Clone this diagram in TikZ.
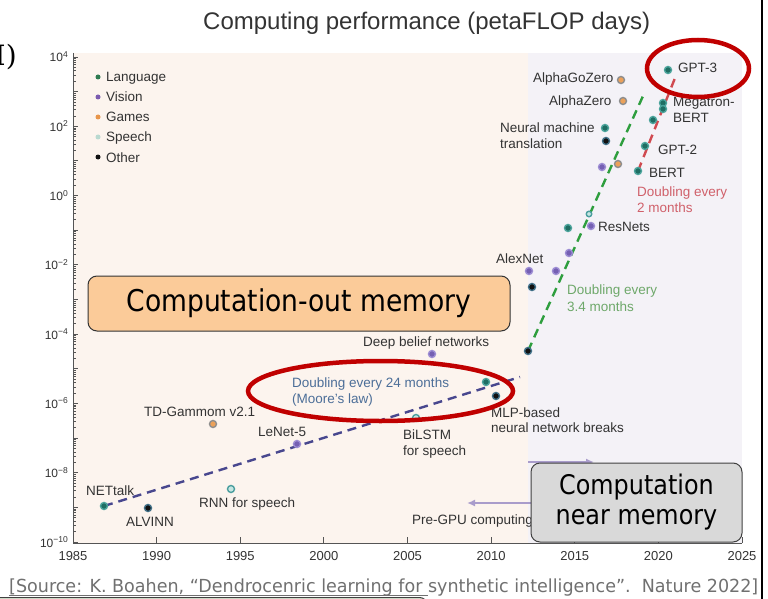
\documentclass[tikz,border=0pt]{standalone}
\usepackage{fontspec}
\setmainfont{Liberation Sans}
\newfontfamily\slidefont[FakeStretch=0.885]{DejaVu Sans}
\newfontfamily\slideserif{DejaVu Serif}
\usetikzlibrary{shapes.geometric,arrows.meta}
\pgfdeclarelayer{bg}
\pgfdeclarelayer{trend}
\pgfsetlayers{bg,trend,main}

\definecolor{peach}{HTML}{FCF4EE}
\definecolor{lavend}{HTML}{F4F2F7}
\definecolor{langc}{HTML}{1F6E63}
\definecolor{langr}{HTML}{4AA39B}
\definecolor{visc}{HTML}{7560B3}
\definecolor{visr}{HTML}{9C8CD3}
\definecolor{gamec}{HTML}{EBA15A}
\definecolor{gamer}{HTML}{8E8E8E}
\definecolor{spc}{HTML}{C6E6E2}
\definecolor{spr}{HTML}{4A9E9E}
\definecolor{othc}{HTML}{111111}
\definecolor{othr}{HTML}{3E6E86}
\definecolor{labgray}{HTML}{333333}
\definecolor{axisgray}{HTML}{555555}
\definecolor{moorec}{HTML}{48478E}
\definecolor{mooretxt}{HTML}{4C6E98}
\definecolor{greenc}{HTML}{2E9E3E}
\definecolor{greentxt}{HTML}{6EA86A}
\definecolor{redc}{HTML}{D04A50}
\definecolor{redtxt}{HTML}{D0606A}
\definecolor{ringred}{HTML}{C00000}
\definecolor{arrowc}{HTML}{A99CCB}
\definecolor{orangebox}{HTML}{FBCB99}
\definecolor{graybox}{HTML}{D9D9D9}
\definecolor{srcgray}{HTML}{707070}
\definecolor{notegreen}{HTML}{E2EFDA}
\definecolor{legl}{HTML}{2E7A50}
\definecolor{legv}{HTML}{7B5BB0}
\definecolor{legg}{HTML}{E8954A}
\definecolor{legs}{HTML}{B9D9D0}

\begin{document}
\begin{tikzpicture}[x=1pt,y=-1pt,
  dot/.style n args={2}{circle, inner sep=0pt, minimum size=7pt, fill=#1, draw=#2, line width=1.4pt},
  lang/.style={dot={langc}{langr}},
  vis/.style={dot={visc}{visr}},
  game/.style={dot={gamec}{gamer}},
  speech/.style={dot={spc}{spr}},
  other/.style={dot={othc}{othr}},
  lab/.style={font=\fontsize{13.5}{15}\selectfont, text=labgray, inner sep=0pt, anchor=base west},
  legdot/.style={circle, inner sep=0pt, minimum size=5pt, fill=#1},
  axis/.style={draw=axisgray, line width=0.9pt},
  ticklab/.style={font=\fontsize{13}{14}\selectfont, text=labgray, inner sep=0pt},
  trendline/.style={line width=2.4pt, dash pattern=on 9pt off 6pt},
  ring/.style={ellipse, draw=ringred, line width=4.5pt, inner sep=0pt},
  gpuarrow/.style={draw=arrowc, line width=2pt, -{Latex[length=8pt,width=7pt]}},
  slidebox/.style={draw=black!80, line width=1pt, rounded corners=9pt, inner sep=0pt}
]
\useasboundingbox (0,0) rectangle (768,599);

% ---------- plot background and axes ----------
\begin{pgfonlayer}{bg}
  \fill[peach] (73,53) rectangle (528,543);
  \fill[lavend] (528,53) rectangle (742,543);
  \draw[axis] (73,53) -- (73,543) -- (742,543);
  \foreach \e in {-10,...,4}{
    \pgfmathsetmacro\yy{542-(\e+10)*34.643}
    \draw[axis] (73,\yy) -- ++(5,0);
  }
  \foreach \e in {-10,...,3}{
    \foreach \k in {2,...,9}{
      \pgfmathsetmacro\yy{542-(\e+10+log10(\k))*34.643}
      \draw[axis, line width=0.7pt] (73,\yy) -- ++(3,0);
    }
  }
  \foreach \yr in {1985,1990,...,2025}{
    \pgfmathsetmacro\xx{73+(\yr-1985)*16.725}
    \draw[axis] (\xx,543) -- ++(0,-6);
    \node[ticklab, anchor=base] at (\xx,560) {\yr};
  }
  \foreach \e/\t in {4/4,2/2,0/0,-2/−2,-4/−4,-6/−6,-8/−8,-10/−10}{
    \pgfmathsetmacro\yy{542-(\e+10)*34.643}
    \node[ticklab, anchor=base east, font=\fontsize{12}{13}\selectfont] at (68,\yy+5) {10\raisebox{4.5pt}{\fontsize{8.5}{9}\selectfont\t}};
  }
\end{pgfonlayer}

% ---------- title ----------
\node[anchor=base west, inner sep=0pt, text=labgray, font=\fontsize{24}{24}\selectfont] (title) at (203,30) {Computing performance (petaFLOP days)};

% ---------- legend ----------
\node[legdot=legl] (kl) at (98,77) {};
\node[legdot=legv] (kv) at (98,97) {};
\node[legdot=legg] (kg) at (98,117) {};
\node[legdot=legs] (ks) at (98,137) {};
\node[legdot=othc] (ko) at (98,157) {};
\node[lab] (kltxt) at (106,82) {Language};
\node[lab] (kvtxt) at (106,102) {Vision};
\node[lab] (kgtxt) at (106,122) {Games};
\node[lab] (kstxt) at (106,142) {Speech};
\node[lab] (kotxt) at (106,162) {Other};

% ---------- data points ----------
\node[lang] (nettalk) at (104,506) {};
\node[other] (alvinn) at (148,508) {};
\node[game] (tdg) at (213,424) {};
\node[speech] (rnn) at (231,489) {};
\node[vis] (lenet) at (297,444) {};
\node[speech] (bilstm) at (416,418) {};
\node[vis] (dbn) at (432,354) {};
\node[lang] (lang2009) at (486,382) {};
\node[other] (mlp) at (496,396) {};
\node[other] (gpustart) at (528,351) {};
\node[vis] (alexnet) at (529,271) {};
\node[other] (alexother) at (532,287) {};
\node[vis] (vis2013) at (556,271) {};
\node[vis] (vis2014) at (569,253) {};
\node[lang] (lang2014) at (568,228) {};
\node[speech, minimum size=5.5pt] (speech2015) at (589,214) {};
\node[vis] (resnets) at (591,226) {};
\node[vis] (vis2016) at (602,167) {};
\node[game] (game2016) at (618,164) {};
\node[lang] (nmt) at (605,128) {};
\node[other] (nmtother) at (606,141) {};
\node[game] (alphazero) at (623,101) {};
\node[game] (alphagozero) at (621,80) {};
\node[lang] (bert) at (638,171) {};
\node[lang] (gpt2) at (645,146) {};
\node[lang] (lang2019) at (653,120) {};
\node[lang] (megatron) at (663,103) {};
\node[lang] (megatron2) at (663,109) {};
\node[lang] (gpt3) at (668,70) {};

% ---------- point labels ----------
\node[lab] (tdgtxt) at (144,416) {TD-Gammom v2.1};
\node[lab] (lenettxt) at (258,436) {LeNet-5};
\node[lab] (nettalktxt) at (86,495) {NETtalk};
\node[lab] (alvinntxt) at (126,526) {ALVINN};
\node[lab] (rnntxt) at (199,507) {RNN for speech};
\node[lab] (dbntxt) at (363,346) {Deep belief networks};
\node[lab, text=mooretxt] (mooreA) at (292,387) {Doubling every 24 months};
\node[lab, text=mooretxt] (mooreB) at (292,403) {(Moore’s law)};
\node[lab] (bilstmA) at (403,439) {BiLSTM};
\node[lab] (bilstmB) at (403,455) {for speech};
\node[lab] (mlpA) at (491,417) {MLP-based};
\node[lab] (mlpB) at (491,432) {neural network breaks};
\node[lab] (pregpu) at (412,524) {Pre-GPU computing};
\node[lab] (alexnettxt) at (496,263) {AlexNet};
\node[lab, text=greentxt] (greenA) at (567,294) {Doubling every};
\node[lab, text=greentxt] (greenB) at (567,311) {3.4 months};
\node[lab] (resnetstxt) at (598,231) {ResNets};
\node[lab, text=redtxt] (redA) at (637,196) {Doubling every};
\node[lab, text=redtxt] (redB) at (637,212) {2 months};
\node[lab] (berttxt) at (649,177) {BERT};
\node[lab] (gpt2txt) at (658,154) {GPT-2};
\node[lab] (nmtA) at (500,132) {Neural machine};
\node[lab] (nmtB) at (500,148) {translation};
\node[lab] (megaA) at (673,107) {Megatron-};
\node[lab] (megaB) at (673,123) {BERT};
\node[lab] (alphazerotxt) at (549,106) {AlphaZero};
\node[lab] (alphagozerotxt) at (533,83) {AlphaGoZero};
\node[lab] (gpt3txt) at (678,73) {GPT-3};

% ---------- trend lines and era arrows ----------
\coordinate (mooreEnd) at (520,377);
\coordinate (greenTop) at (643,96);
\coordinate (redTop) at (675,78);
\coordinate (preEnd) at (467,503);
\coordinate (gpuA) at (528,462);
\coordinate (gpuB) at (594,462);

% ---------- slide annotations ----------
\node[slidebox, fill=orangebox, minimum width=422pt, minimum height=55pt,
      font=\slidefont\fontsize{30}{30}\selectfont] (obox) at (299,303.5) {Computation-out memory};
\node[slidebox, draw=black!75, fill=graybox, minimum width=211pt, minimum height=79pt, align=center,
      font=\slidefont\fontsize{27}{30}\selectfont] (gbox) at (636.5,502.5) {Computation\\near memory};

\begin{pgfonlayer}{trend}
  \draw[trendline, moorec] (nettalk.center) -- (mooreEnd);
  \draw[trendline, greenc] (gpustart.center) -- (greenTop);
  \draw[trendline, redc] (bert.center) -- (redTop);
  \draw[gpuarrow] (gbox.west |- preEnd) -- (preEnd);
  \draw[gpuarrow] (gpuA) -- (gpuB);
\end{pgfonlayer}

\node[ring, minimum width=102pt, minimum height=57pt] (ringgpt) at (698,68.5) {};
\node[ring, minimum width=265pt, minimum height=60pt] (ringmoore) at (380.5,391) {};

% ---------- slide edge, reference line, note box ----------
\node[anchor=base west, inner sep=0pt, font=\slideserif\fontsize{28}{28}\selectfont] (partlabel) at (-5.5,66) {I)};
\draw[black, line width=2pt] (762,0) -- (762,599);
\node[anchor=base west, inner sep=0pt, text=srcgray] (src) at (9,592)
  {\resizebox{749pt}{\height}{\slidefont\fontsize{18}{18}\selectfont [Source: K. Boahen, “Dendrocenric learning for synthetic intelligence”.\ \ Nature 2022]}};
\draw[srcgray, line width=1pt] ([yshift=-3pt]src.base west) -- ++(419,0);
\node[draw=black!75, line width=1pt, fill=notegreen, rounded corners=8pt, minimum width=440pt, minimum height=40pt, anchor=north east, inner sep=0pt] (note) at (428,597) {};
\end{tikzpicture}
\end{document}
